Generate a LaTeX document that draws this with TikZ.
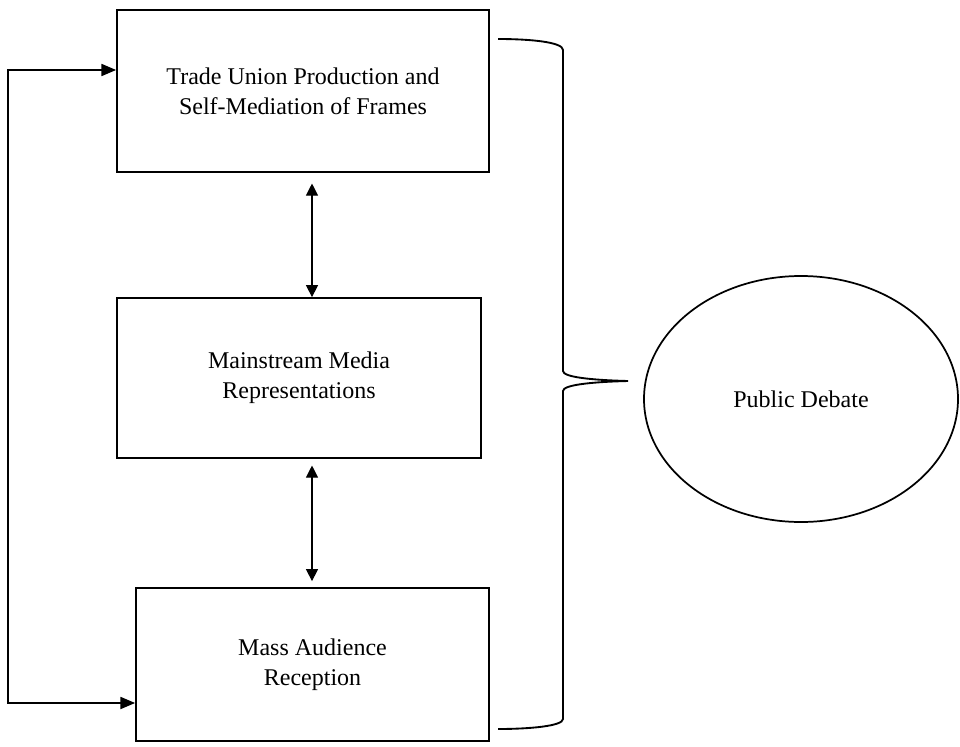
\documentclass[tikz,border=0pt]{standalone}
\usepackage{fontspec}
\setmainfont{Liberation Serif}
\usetikzlibrary{arrows.meta,shapes.geometric}
\begin{document}
\begin{tikzpicture}[x=0.75pt,y=-0.75pt,
  box/.style={draw, line width=1.3pt, rectangle, inner sep=0pt, align=center,
    font=\fontsize{18}{22.5}\selectfont},
  oval/.style={draw, line width=1.3pt, ellipse, inner sep=0pt,
    minimum width=235.5pt, minimum height=184.5pt,
    font=\fontsize{18}{22.5}\selectfont},
  dbl/.style={line width=0.8pt, {Triangle[length=9pt,width=9pt]}-{Triangle[length=9pt,width=9pt]}},
  loopline/.style={line width=1.3pt, {Triangle[length=11pt,width=9pt]}-{Triangle[length=11pt,width=9pt]}},
  bracestyle/.style={line width=1.4pt}
]
\useasboundingbox (0,0) rectangle (960,746);
\node[box, minimum width=279pt, minimum height=121.5pt] (b1) at (303,91)
  {Trade Union Production and\\Self-Mediation of Frames};
\node[box, minimum width=273pt, minimum height=120pt] (b2) at (299,378)
  {Mainstream Media\\Representations};
\node[box, minimum width=264.75pt, minimum height=114.75pt] (b3) at (312.5,664.5)
  {Mass Audience\\Reception};
\node[oval] (pd) at (801,399) {Public Debate};
\coordinate (ax) at (312,0);
\coordinate (lx) at (8,0);
\coordinate (ly1) at (0,70);
\coordinate (ly3) at (0,703);
\draw[dbl, shorten <=8pt] (b1.south -| ax) -- (b2.north -| ax);
\draw[dbl, shorten <=5pt, shorten >=4.5pt] (b2.south -| ax) -- (b3.north -| ax);
\draw[loopline] (b3.west |- ly3) -- (lx |- ly3) -- (lx |- ly1) -- (b1.west |- ly1);
\draw[bracestyle] (498,39) .. controls (530,39) and (563,42) .. (563,50)
  -- (563,371) .. controls (563,377) and (590,380) .. (628,381)
  .. controls (590,382) and (563,385) .. (563,391)
  -- (563,719) .. controls (563,726) and (530,729) .. (498,729);
\end{tikzpicture}
\end{document}
